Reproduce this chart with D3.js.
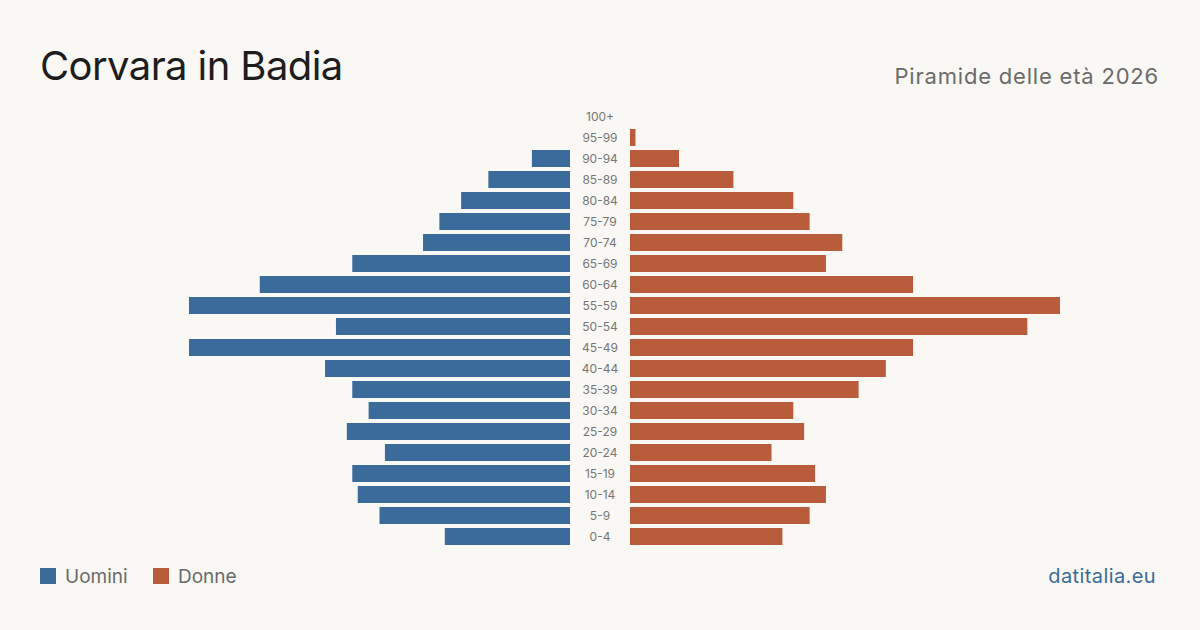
<!DOCTYPE html>
<html>
<head>
<meta charset="utf-8">
<script src="https://cdn.jsdelivr.net/npm/d3@7"></script>
<style>
  body { margin: 0; background: #f9f8f4; }
  svg { display: block; font-family: Inter, "Noto Sans", sans-serif; }
</style>
</head>
<body>
<svg width="1200" height="630"></svg>
<script>
// age groups, top to bottom
var ageGroups = ["100+","95-99","90-94","85-89","80-84","75-79","70-74","65-69","60-64","55-59",
                 "50-54","45-49","40-44","35-39","30-34","25-29","20-24","15-19","10-14","5-9","0-4"];
var men   = [0, 0, 7, 15, 20, 24, 27, 40, 57, 70, 43, 70, 45, 40, 37, 41, 34, 40, 39, 35, 23];
var women = [0, 1, 9, 19, 30, 33, 39, 36, 52, 79, 73, 52, 47, 42, 30, 32, 26, 34, 36, 33, 28];

var blue = "#3b6b9a", red = "#b95c3c";

var svg = d3.select("svg");

svg.append("rect").attr("width", 1200).attr("height", 630).attr("fill", "#f9f8f4");

// titles
svg.append("text")
    .attr("x", 40).attr("y", 80)
    .attr("font-size", 40)
    .attr("letter-spacing", -0.6)
    .attr("fill", "#1d1d1d")
    .text("Corvara in Badia");

svg.append("text")
    .attr("x", 1159).attr("y", 84)
    .attr("text-anchor", "end")
    .attr("font-size", 22)
    .attr("letter-spacing", 0.8)
    .attr("fill", "#6b6b6b")
    .text("Piramide delle età 2026");

var maxVal = d3.max(men.concat(women));

var y = d3.scaleBand()
    .domain(ageGroups)
    .range([106, 547])
    .paddingInner(4 / 21)
    .paddingOuter(2 / 21);

var xLeft = d3.scaleLinear().domain([0, maxVal]).range([570, 140]);
var xRight = d3.scaleLinear().domain([0, maxVal]).range([630, 1060]);

// men bars
svg.append("g").selectAll("rect")
    .data(ageGroups)
    .enter().append("rect")
    .attr("x", function(d, i) { return xLeft(men[i]); })
    .attr("y", function(d) { return y(d); })
    .attr("width", function(d, i) { return 570 - xLeft(men[i]); })
    .attr("height", y.bandwidth())
    .attr("fill", blue);

// women bars
svg.append("g").selectAll("rect")
    .data(ageGroups)
    .enter().append("rect")
    .attr("x", 630)
    .attr("y", function(d) { return y(d); })
    .attr("width", function(d, i) { return xRight(women[i]) - 630; })
    .attr("height", y.bandwidth())
    .attr("fill", red);

// age labels
svg.append("g").selectAll("text")
    .data(ageGroups)
    .enter().append("text")
    .attr("x", 600)
    .attr("y", function(d) { return y(d) + y.bandwidth() / 2; })
    .attr("dy", "0.35em")
    .attr("text-anchor", "middle")
    .attr("font-size", 12)
    .attr("fill", "#777")
    .text(function(d) { return d; });

// legend
var legend = [{label: "Uomini", color: blue, x: 40}, {label: "Donne", color: red, x: 153}];
var lg = svg.append("g").selectAll("g")
    .data(legend)
    .enter().append("g")
    .attr("transform", function(d) { return "translate(" + d.x + ",568)"; });
lg.append("rect").attr("width", 16).attr("height", 16).attr("fill", function(d) { return d.color; });
lg.append("text")
    .attr("x", 25).attr("y", 15)
    .attr("font-size", 19)
    .attr("fill", "#6b6b6b")
    .text(function(d) { return d.label; });

svg.append("text")
    .attr("x", 1156).attr("y", 583)
    .attr("text-anchor", "end")
    .attr("font-size", 20)
    .attr("letter-spacing", 0.4)
    .attr("fill", "#3b6b9a")
    .text("datitalia.eu");
</script>
</body>
</html>
